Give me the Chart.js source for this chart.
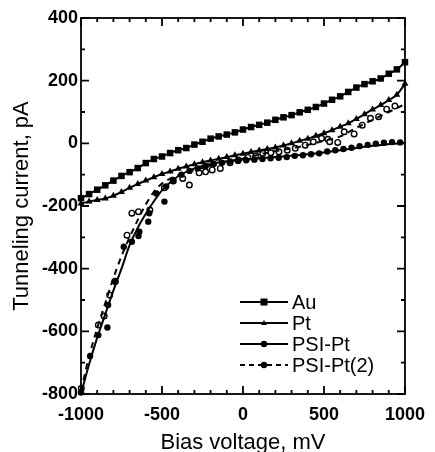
<!DOCTYPE html>
<html>
<head>
<meta charset="utf-8">
<script src="https://cdn.jsdelivr.net/npm/chart.js@4.4.1/dist/chart.umd.min.js"></script>
<style>
  html, body { margin: 0; padding: 0; background: #fff; }
  #wrap { width: 435px; height: 452px; }
</style>
</head>
<body>
<div id="wrap"><canvas id="ivChart" width="435" height="452"></canvas></div>
<script>
// ================= DATA =================
const biasGrid = [
  -1000, -950, -900, -850, -800, -750, -700, -650, -600, -550, -500,
  -450, -400, -350, -300, -250, -200, -150, -100, -50, 0,
  50, 100, 150, 200, 250, 300, 350, 400, 450, 500,
  550, 600, 650, 700, 750, 800, 850, 900, 950, 1000
];

const auCurrent = [
  -175, -162, -148, -134, -119, -104, -92, -79, -63, -50, -42,
  -31, -22, -15, -4, 5, 15, 22, 28, 35, 44,
  52, 59, 66, 75, 83, 90, 99, 107, 116, 127,
  139, 150, 164, 178, 189, 198, 207, 222, 236, 259
];

const ptCurrent = [
  -192, -186, -181, -176, -167, -155, -142, -130, -119, -108, -98,
  -90, -81, -74, -67, -60, -55, -49, -44, -38, -33,
  -28, -23, -18, -13, -7, 0, 8, 15, 24, 32,
  42, 53, 64, 78, 93, 108, 122, 138, 155, 190
];

// PSI-Pt measured points
const psiX = [
  -1000, -944, -893, -837, -833, -787, -736, -686, -645, -640, -585, -579,
  -535, -485, -474, -432, -380, -330, -280, -230, -180, -130, -80, -30,
  20, 70, 120, 170, 220, 270, 320, 370, 420, 470, 520, 570,
  620, 670, 720, 770, 820, 870, 920, 970
];
const psiY = [
  -795, -679, -612, -588, -516, -442, -330, -314, -296, -282, -250, -223,
  -160, -186, -138, -117, -100, -88, -80, -72, -66, -62, -58, -56,
  -54, -52, -50, -48, -46, -44, -40, -38, -35, -32, -26, -22,
  -18, -14, -9, -5, -1, 2, 4, 3
];

// PSI-Pt fitted curve
const psiFitX = [-1000, -950, -900, -850, -800, -750, -700, -650, -600, -550, -500, -450, -400, -300, -200, -100, 0, 200, 400, 600, 800, 1000];
const psiFitY = [-800, -705, -620, -545, -470, -400, -325, -270, -225, -185, -150, -125, -105, -80, -66, -57, -52, -44, -35, -22, -8, 2];

// PSI-Pt(2) measured points
const psi2X = [
  -998, -893, -857, -823, -790, -716, -686, -645, -575, -485, -430, -372,
  -331, -271, -231, -190, -140, -80, -29, 30, 80, 122, 172, 222,
  273, 323, 384, 434, 485, 524, 535, 585, 625, 686, 736, 787,
  837, 887, 938
];
const psi2Y = [
  -782, -580, -551, -484, -440, -293, -223, -218, -213, -142, -120, -112,
  -133, -94, -91, -85, -80, -62, -53, -45, -40, -32, -30, -27,
  -22, -16, -6, 5, 16, 13, 5, 3, 37, 30, 58, 80,
  85, 109, 119
];

// PSI-Pt(2) fitted curve
const psi2FitX = [-1000, -950, -900, -850, -800, -750, -700, -650, -600, -550, -500, -450, -400, -350, -300, -200, -100, 0, 100, 200, 300, 400, 500, 600, 700, 800, 900, 1000];
const psi2FitY = [-790, -680, -590, -510, -430, -360, -300, -245, -195, -155, -128, -113, -102, -93, -85, -72, -60, -48, -36, -25, -16, -5, 8, 22, 50, 75, 100, 125];

const legendLabels = ["Au", "Pt", "PSI-Pt", "PSI-Pt(2)"];

function toPoints(xs, ys) {
  return xs.map((x, i) => ({ x: x, y: ys[i] }));
}

const FONT = "'Liberation Sans', Arial, sans-serif";

// ================= PLUGIN: FRAME + INWARD TICKS + LEGEND =================
const frameAndLegend = {
  id: "frameAndLegend",
  afterDraw(chart) {
    const ctx = chart.ctx;
    const a = chart.chartArea;
    const xs = chart.scales.x;
    const ys = chart.scales.y;

    ctx.save();
    ctx.strokeStyle = "#000";
    ctx.lineWidth = 1.8;
    ctx.strokeRect(a.left, a.top, a.right - a.left, a.bottom - a.top);

    // x ticks (every 100, major every 500)
    for (let v = -1000; v <= 1000; v += 100) {
      const px = xs.getPixelForValue(v);
      const len = (v % 500 === 0) ? 8 : 4;
      ctx.beginPath();
      ctx.moveTo(px, a.bottom); ctx.lineTo(px, a.bottom - len);
      ctx.moveTo(px, a.top); ctx.lineTo(px, a.top + len);
      ctx.stroke();
    }
    // y ticks (every 100, major every 200)
    for (let v = -800; v <= 400; v += 100) {
      const py = ys.getPixelForValue(v);
      const len = (v % 200 === 0) ? 8 : 4;
      ctx.beginPath();
      ctx.moveTo(a.left, py); ctx.lineTo(a.left + len, py);
      ctx.moveTo(a.right, py); ctx.lineTo(a.right - len, py);
      ctx.stroke();
    }

    // legend
    const lx = 240, rowY = [302, 323, 344, 365];
    ctx.font = "20px " + FONT;
    ctx.textBaseline = "middle";
    ctx.fillStyle = "#000";
    rowY.forEach((y, i) => {
      ctx.lineWidth = 1.8;
      ctx.setLineDash(i === 3 ? [5, 4] : []);
      ctx.beginPath();
      ctx.moveTo(lx, y); ctx.lineTo(lx + 48, y);
      ctx.stroke();
      ctx.setLineDash([]);
      const mx = lx + 24;
      ctx.beginPath();
      if (i === 0) {
        ctx.rect(mx - 3.5, y - 3.5, 7, 7);
      } else if (i === 1) {
        ctx.moveTo(mx, y - 3); ctx.lineTo(mx + 3, y + 2); ctx.lineTo(mx - 3, y + 2); ctx.closePath();
      } else {
        ctx.arc(mx, y, 3.2, 0, Math.PI * 2);
      }
      ctx.fill();
      ctx.fillText(legendLabels[i], lx + 52, y + 1);
    });
    ctx.restore();
  }
};

// ================= CHART =================
const ctx = document.getElementById("ivChart").getContext("2d");

const ivChart = new Chart(ctx, {
  type: "line",
  data: {
    datasets: [
      {
        label: "Au",
        data: toPoints(biasGrid, auCurrent),
        borderColor: "#000",
        backgroundColor: "#000",
        borderWidth: 2,
        pointStyle: "rect",
        pointRadius: 4.6,
        pointBorderWidth: 0,
        cubicInterpolationMode: "monotone",
        clip: 6
      },
      {
        label: "Pt",
        data: toPoints(biasGrid, ptCurrent),
        borderColor: "#000",
        backgroundColor: "#000",
        borderWidth: 2,
        pointStyle: "triangle",
        pointRadius: 4,
        pointBorderWidth: 0,
        cubicInterpolationMode: "monotone",
        clip: 6
      },
      {
        label: "PSI-Pt fit",
        data: toPoints(psiFitX, psiFitY),
        borderColor: "#000",
        borderWidth: 2,
        pointRadius: 0,
        cubicInterpolationMode: "monotone",
        clip: 6
      },
      {
        label: "PSI-Pt(2) fit",
        data: toPoints(psi2FitX, psi2FitY),
        borderColor: "#000",
        borderWidth: 2,
        borderDash: [6, 5],
        pointRadius: 0,
        cubicInterpolationMode: "monotone",
        clip: 6
      },
      {
        label: "PSI-Pt",
        data: toPoints(psiX, psiY),
        showLine: false,
        backgroundColor: "#000",
        borderColor: "#000",
        pointStyle: "circle",
        pointRadius: 3.2,
        pointBorderWidth: 0,
        clip: 6
      },
      {
        label: "PSI-Pt(2)",
        data: toPoints(psi2X, psi2Y),
        showLine: false,
        backgroundColor: "#fff",
        borderColor: "#000",
        pointStyle: "circle",
        pointRadius: 2.8,
        pointBorderWidth: 1.4,
        clip: 6
      }
    ]
  },
  options: {
    responsive: false,
    animation: false,
    layout: { padding: { left: 0, top: 18, right: 23, bottom: 0 } },
    plugins: {
      legend: { display: false },
      tooltip: { enabled: false }
    },
    scales: {
      x: {
        type: "linear",
        min: -1000,
        max: 1000,
        afterFit: s => { s.height = 58; },
        ticks: {
          stepSize: 500,
          padding: 10,
          color: "#000",
          maxRotation: 0,
          callback: v => String(v),
          font: { family: FONT, size: 18, weight: "bold" }
        },
        grid: { display: false, drawTicks: false },
        border: { display: false },
        title: {
          display: true,
          text: "Bias voltage, mV",
          color: "#000",
          padding: { top: 0, bottom: -4 },
          font: { family: FONT, size: 22 }
        }
      },
      y: {
        type: "linear",
        min: -800,
        max: 400,
        afterFit: s => { s.width = 81; },
        ticks: {
          stepSize: 200,
          padding: 3,
          color: "#000",
          callback: v => String(v),
          font: { family: FONT, size: 18, weight: "bold" }
        },
        grid: { display: false, drawTicks: false },
        border: { display: false },
        title: {
          display: true,
          text: "Tunneling current, pA",
          color: "#000",
          padding: { top: 9, bottom: 0 },
          font: { family: FONT, size: 22 }
        }
      }
    }
  },
  plugins: [frameAndLegend]
});
</script>
</body>
</html>
